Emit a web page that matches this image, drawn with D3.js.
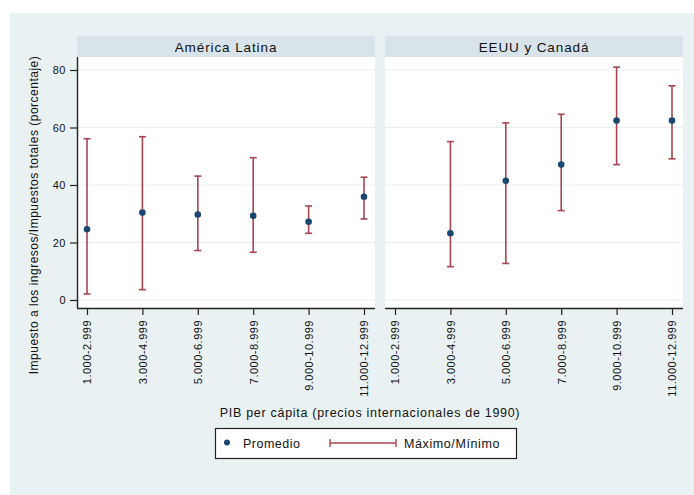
<!DOCTYPE html>
<html>
<head>
<meta charset="utf-8">
<script src="https://cdn.jsdelivr.net/npm/d3@7"></script>
<style>
  body { margin: 0; background: #fff; }
  text { font-family: "Liberation Sans", Arial, sans-serif; fill: #111; }
</style>
</head>
<body>
<div id="chart"></div>
<script>
const categories = ["1.000-2.999", "3.000-4.999", "5.000-6.999", "7.000-8.999", "9.000-10.999", "11.000-12.999"];
const panels = ["América Latina", "EEUU y Canadá"];
// one entry per category; null where the group has no data
const latMean = [24.6, 30.4, 29.7, 29.3, 27.2, 35.9];
const latMax  = [56.1, 56.8, 43.1, 49.5, 32.7, 42.7];
const latMin  = [2.1, 3.6, 17.2, 16.6, 23.2, 28.2];
const usMean  = [null, 23.2, 41.5, 47.1, 62.4, 62.4];
const usMax   = [null, 55.1, 61.6, 64.6, 81.0, 74.5];
const usMin   = [null, 11.6, 12.7, 31.1, 47.1, 49.1];
const yTicks = [0, 20, 40, 60, 80];

const W = 694, H = 495;
const col = {bg: "#e9f1f3", strip: "#d8e4ea", grid: "#e8f0f0", bar: "#a8454f", dot: "#1a476f", axis: "#222"};
const dim = {top: 57, bottom: 308, stripTop: 36, panelW: 298};
const panelX = [77, 385];

const svg = d3.select("#chart").append("svg")
  .attr("width", W).attr("height", H);

svg.append("rect").attr("x", 10).attr("y", 13).attr("width", W - 10).attr("height", H - 13)
  .attr("fill", col.bg);

const y = d3.scaleLinear([0, 80], [300, 70]);

const series = [
  {mean: latMean, max: latMax, min: latMin},
  {mean: usMean, max: usMax, min: usMin}
];

panels.forEach((name, p) => {
  const x0 = panelX[p];
  const x = d3.scalePoint(categories, [x0 + 10, x0 + dim.panelW - 11]);
  const g = svg.append("g");

  g.append("rect").attr("x", x0).attr("y", dim.stripTop)
    .attr("width", dim.panelW).attr("height", dim.top - dim.stripTop).attr("fill", col.strip);
  g.append("text").attr("x", x0 + dim.panelW / 2).attr("y", 51.5)
    .attr("text-anchor", "middle").style("font-size", "13.5px").style("letter-spacing", "0.9px")
    .text(name);

  g.append("rect").attr("x", x0).attr("y", dim.top)
    .attr("width", dim.panelW).attr("height", dim.bottom - dim.top).attr("fill", "#fff");

  g.selectAll("line.grid").data(yTicks).join("line")
    .attr("class", "grid")
    .attr("x1", x0).attr("x2", x0 + dim.panelW)
    .attr("y1", d => y(d)).attr("y2", d => y(d))
    .attr("stroke", col.grid).attr("stroke-width", 1.2);

  const rows = categories.map((c, i) => ({
    c, mean: series[p].mean[i], max: series[p].max[i], min: series[p].min[i]
  })).filter(d => d.mean !== null);

  const bars = g.selectAll("g.bar").data(rows).join("g").attr("class", "bar")
    .attr("stroke", col.bar).attr("stroke-width", 1.6);
  bars.append("line")
    .attr("x1", d => x(d.c)).attr("x2", d => x(d.c))
    .attr("y1", d => y(d.max)).attr("y2", d => y(d.min));
  bars.append("line")
    .attr("x1", d => x(d.c) - 3.5).attr("x2", d => x(d.c) + 3.5)
    .attr("y1", d => y(d.max)).attr("y2", d => y(d.max));
  bars.append("line")
    .attr("x1", d => x(d.c) - 3.5).attr("x2", d => x(d.c) + 3.5)
    .attr("y1", d => y(d.min)).attr("y2", d => y(d.min));

  g.selectAll("circle").data(rows).join("circle")
    .attr("cx", d => x(d.c)).attr("cy", d => y(d.mean)).attr("r", 3.3)
    .attr("fill", col.dot);

  const xAxis = g.append("g")
    .attr("transform", `translate(0 ${dim.bottom})`)
    .call(d3.axisBottom(x).tickSize(7).tickSizeOuter(0));
  xAxis.select(".domain").attr("d", `M${x0},0.5H${x0 + dim.panelW}`)
    .attr("stroke", col.axis).attr("stroke-width", 1.4);
  xAxis.selectAll(".tick line").attr("stroke", col.axis).attr("stroke-width", 1.2);
  xAxis.selectAll(".tick text")
    .attr("transform", "rotate(-90)")
    .attr("text-anchor", "end")
    .attr("x", -12).attr("y", 0).attr("dy", "0.35em")
    .style("font-size", "11px").style("letter-spacing", "0.5px")
    .style("font-family", "'Liberation Sans', Arial, sans-serif")
    .attr("fill", "#111");

  if (p === 0) {
    const yAxis = g.append("g")
      .attr("transform", `translate(${x0} 0)`)
      .call(d3.axisLeft(y).tickValues(yTicks).tickSize(7).tickPadding(4).tickSizeOuter(0));
    yAxis.select(".domain").attr("d", `M0.5,${dim.top}V${dim.bottom}`)
      .attr("stroke", col.axis).attr("stroke-width", 1.4);
    yAxis.selectAll(".tick line").attr("stroke", col.axis).attr("stroke-width", 1.2);
    yAxis.selectAll(".tick text")
      .style("font-size", "11px").style("letter-spacing", "0.5px")
      .style("font-family", "'Liberation Sans', Arial, sans-serif")
      .attr("fill", "#111");
  }
});

svg.append("text")
  .attr("transform", "translate(38 215) rotate(-90)")
  .attr("text-anchor", "middle").style("font-size", "12px").style("letter-spacing", "0.5px")
  .text("Impuesto a los ingresos/Impuestos totales (porcentaje)");

svg.append("text").attr("x", 370).attr("y", 417)
  .attr("text-anchor", "middle").style("font-size", "12.5px").style("letter-spacing", "0.7px")
  .text("PIB per cápita (precios internacionales de 1990)");

// legend
const lg = svg.append("g");
lg.append("rect").attr("x", 215.5).attr("y", 428.5).attr("width", 301).attr("height", 30)
  .attr("fill", "#fff").attr("stroke", "#222").attr("stroke-width", 1.2);
lg.append("circle").attr("cx", 227).attr("cy", 442.5).attr("r", 3).attr("fill", col.dot);
lg.append("text").attr("x", 243).attr("y", 447.5).style("font-size", "12.5px").style("letter-spacing", "0.5px")
  .text("Promedio");
lg.append("line").attr("x1", 330).attr("x2", 396).attr("y1", 443).attr("y2", 443)
  .attr("stroke", col.bar).attr("stroke-width", 1.4);
[330, 396].forEach(v => lg.append("line").attr("x1", v).attr("x2", v).attr("y1", 439).attr("y2", 447)
  .attr("stroke", col.bar).attr("stroke-width", 1.4));
lg.append("text").attr("x", 404).attr("y", 447.5).style("font-size", "12.5px").style("letter-spacing", "0.6px")
  .text("Máximo/Mínimo");
</script>
</body>
</html>
